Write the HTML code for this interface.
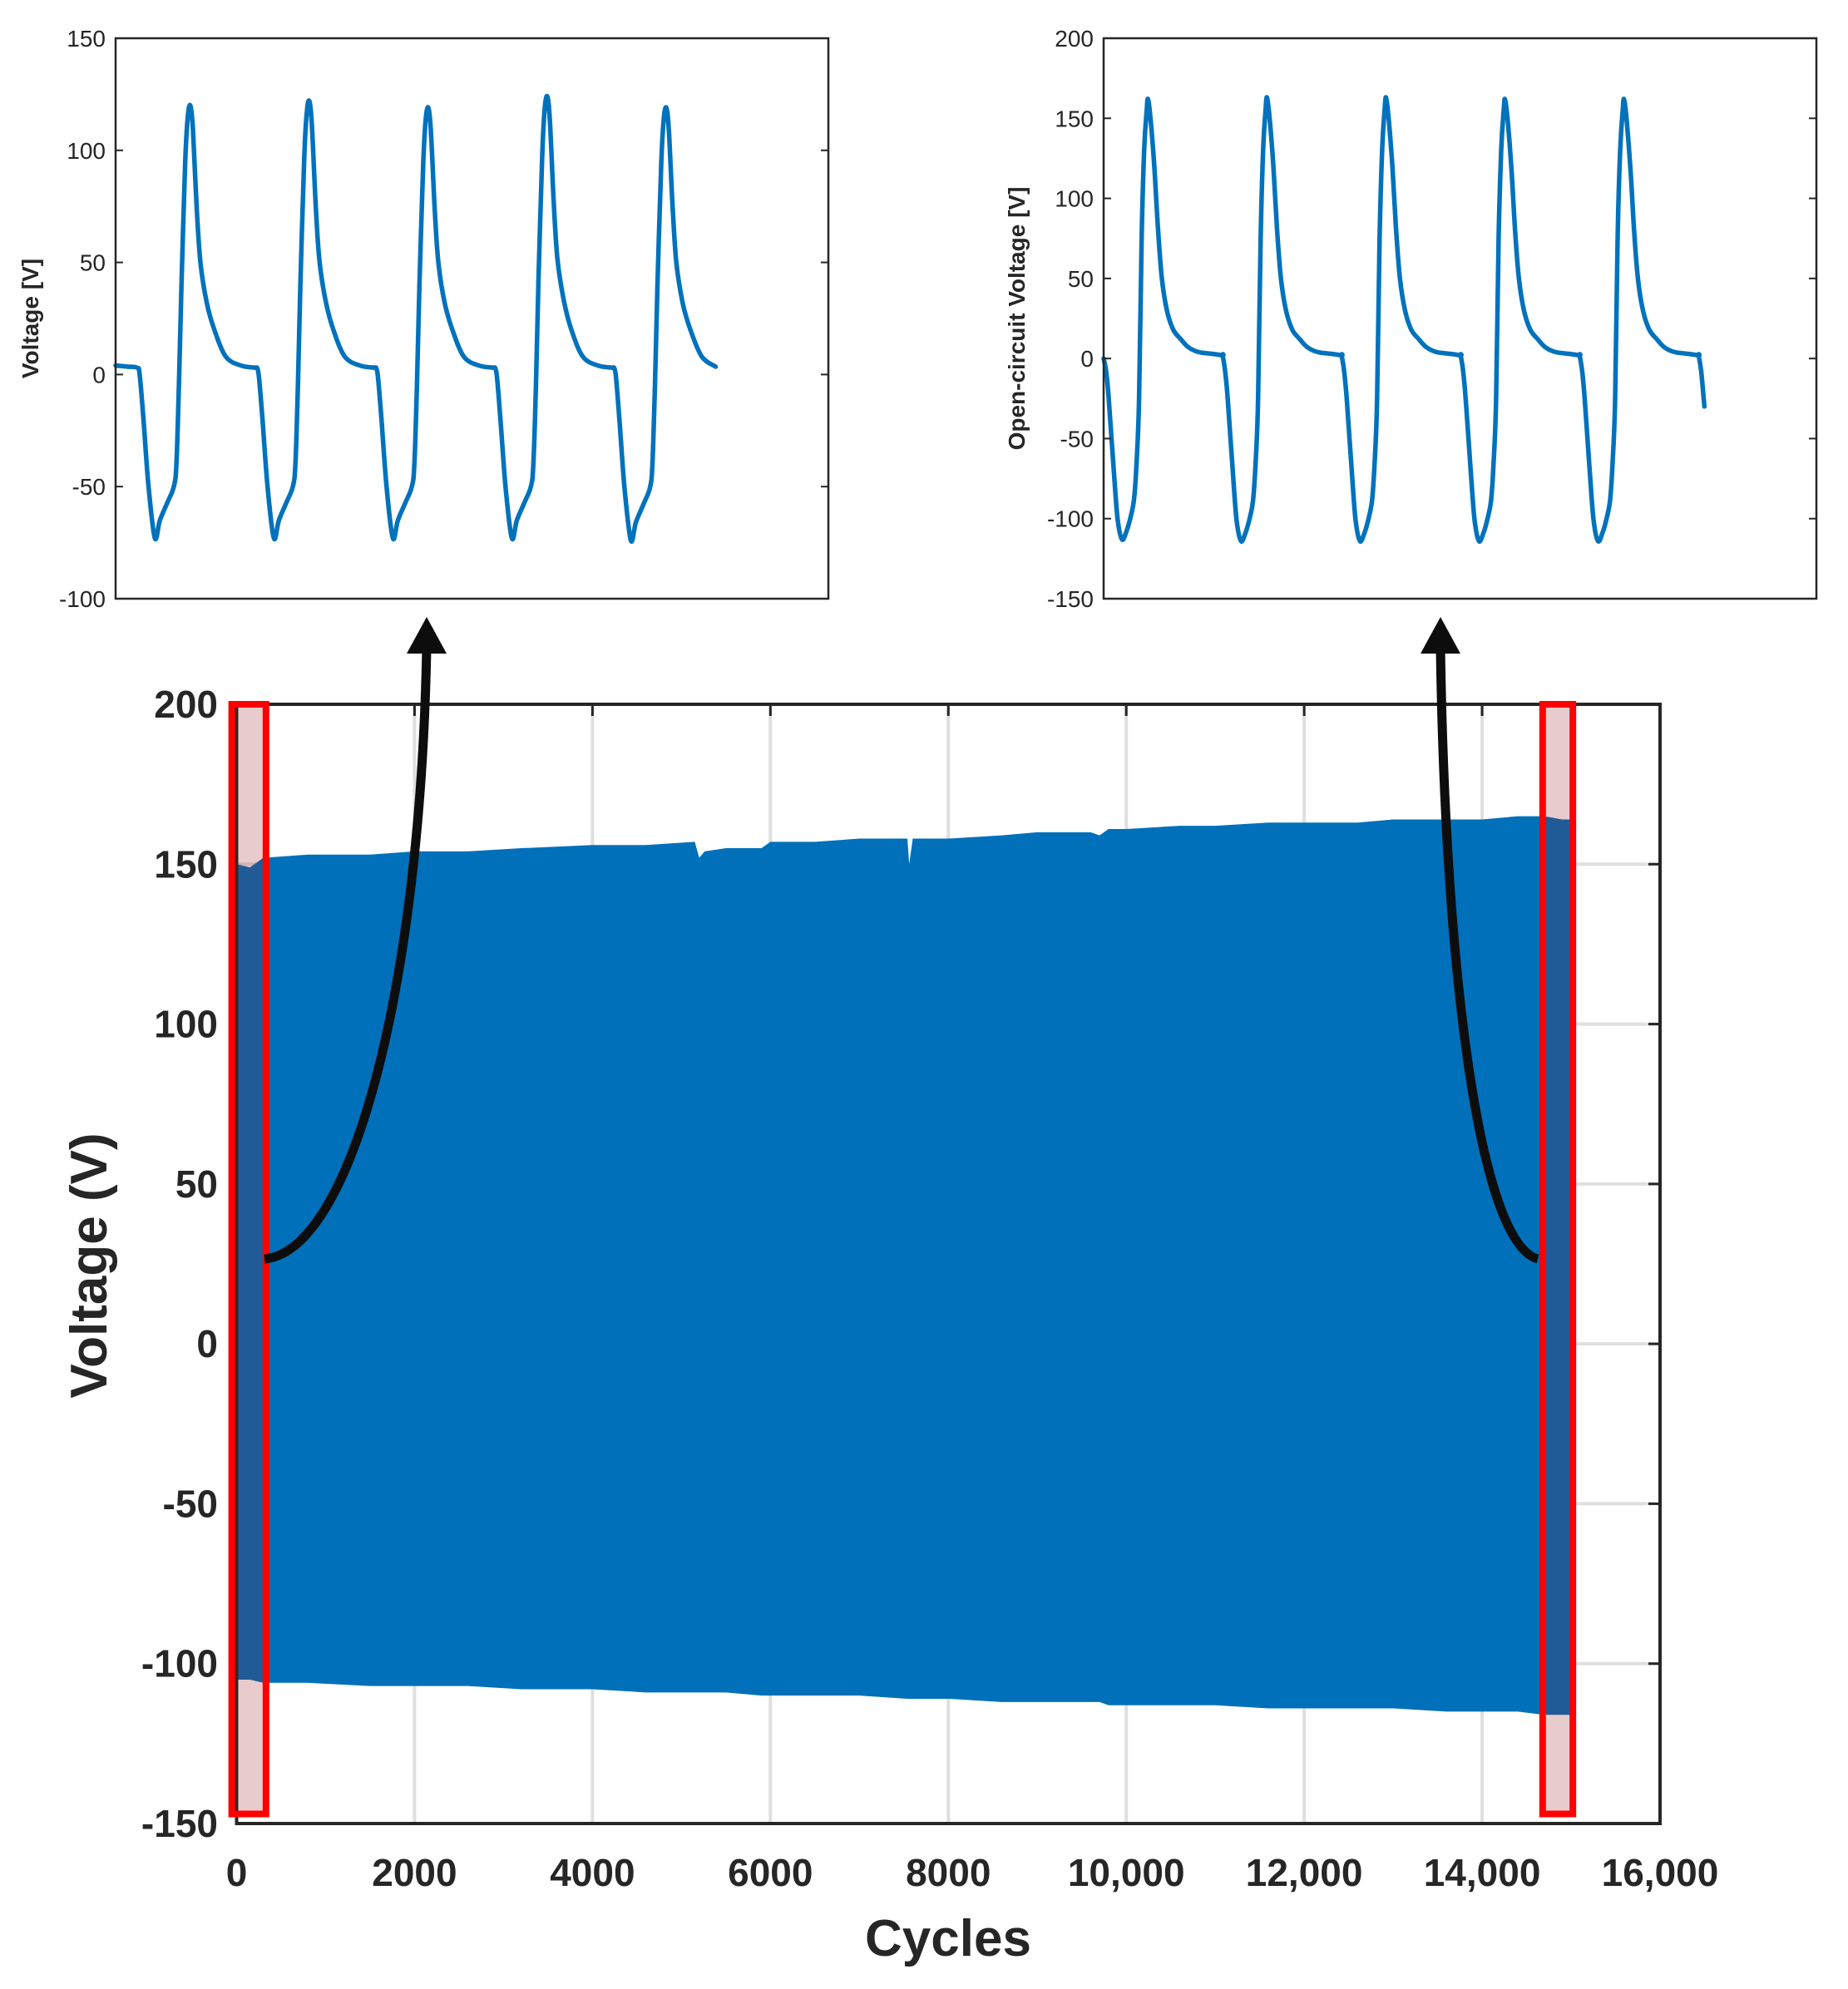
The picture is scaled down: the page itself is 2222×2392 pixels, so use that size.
<!DOCTYPE html>
<html><head><meta charset="utf-8">
<style>
html,body{margin:0;padding:0;background:#fff;}
svg{display:block;}
text{font-family:"Liberation Sans",Arial,sans-serif;fill:#262626;}
</style></head>
<body>
<svg id="fig" width="2222" height="2392" viewBox="0 0 2222 2392" xmlns="http://www.w3.org/2000/svg"></svg>
<script>
// ---------- Main chart data ----------
const mainXTicks = [0,2000,4000,6000,8000,10000,12000,14000,16000];
const mainXTickLabels = ["0","2000","4000","6000","8000","10,000","12,000","14,000","16,000"];
const mainYTicks = [-150,-100,-50,0,50,100,150,200];
const envCycles = [0,150,300,800,1500,2000,2600,3200,4000,4600,5150,5200,5260,5500,5900,6000,6500,7000,7540,7560,7600,8000,8600,9000,9600,9700,9800,10000,10600,11000,11600,12000,12600,13000,13600,14000,14400,14700,14900,15000];
const envUpper  = [150,149,152,153,153,154,154,155,156,156,157,152,154,155,155,157,157,158,158,150,158,158,159,160,160,159,161,161,162,162,163,163,163,164,164,164,165,165,164,164];
const envLower  = [-105,-105,-106,-106,-107,-107,-107,-108,-108,-109,-109,-109,-109,-109,-110,-110,-110,-110,-111,-111,-111,-111,-112,-112,-112,-112,-113,-113,-113,-113,-114,-114,-114,-114,-115,-115,-115,-116,-116,-116];
const zoomBoxes = [[-55,330],[14680,15020]];

// ---------- Inset data ----------
const in1YTicks = [-100,-50,0,50,100,150];
const in1Starts = [17,111,205,299,393];
const in1Peaks = [120,122,119,124,119];
const in1Troughs = [-73,-73,-73,-73,-74];
const in1ShapeT = [0,2,5,9,14,18,24,29,31,33,35,38,40,42,44,47,50,55,61,70,82,94];
const in1ShapeV = [3,0,-20,-50,-73,-65,-57,-50,-40,-5,40,95,115,120,110,75,50,32,20,8,4,3];
const in1End = 474;

const in2YTicks = [-150,-100,-50,0,50,100,150,200];
const in2Starts = [0,94,188,282,376,470];
const in2Peaks = [162,163,163,162,162,0];
const in2Troughs = [-113,-114,-114,-114,-114,-114];
const in2ShapeT = [0,2,4,8,11,14.5,18,21,24,26,28,30,32,34,35,37,40,43,46,50,55,61,67,75,85,94];
const in2ShapeV = [2,-8,-25,-70,-100,-113,-108,-100,-88,-65,-25,75,130,155,162,150,120,80,50,30,18,12,7,4,3,2];
const in2End = 474.5;

const NS="http://www.w3.org/2000/svg";
const svg=document.getElementById('fig');
function el(tag,attrs,parent){const e=document.createElementNS(NS,tag);for(const k in attrs)e.setAttribute(k,attrs[k]);(parent||svg).appendChild(e);return e;}

// ---------- Main chart ----------
const M={l:284.5,r:1996,t:847,b:2193,x0:0,x1:16000,y0:-150,y1:200};
const mx=v=>M.l+(v-M.x0)/(M.x1-M.x0)*(M.r-M.l);
const my=v=>M.b-(v-M.y0)/(M.y1-M.y0)*(M.b-M.t);
const gMain=el('g',{});


mainXTicks.forEach(t=>{if(t>0&&t<16000){const l=el('line',{x1:mx(t),x2:mx(t),y1:M.t,y2:M.b,stroke:'#dfdfdf','stroke-width':4},gMain);}});
mainYTicks.forEach(t=>{if(t>-150&&t<200){const l=el('line',{x1:M.l,x2:M.r,y1:my(t),y2:my(t),stroke:'#dfdfdf','stroke-width':4},gMain);}});
let d='M'+mx(envCycles[0])+','+my(envUpper[0]);
for(let i=1;i<envCycles.length;i++)d+=' L'+mx(envCycles[i])+','+my(envUpper[i]);
for(let i=envCycles.length-1;i>=0;i--)d+=' L'+mx(envCycles[i])+','+my(envLower[i]);
d+='Z';
const env=el('path',{d:d,fill:'#0070ba'},gMain);


mainYTicks.forEach(t=>{const tk=el('line',{x1:M.r-14,x2:M.r,y1:my(t),y2:my(t),stroke:'#262626','stroke-width':3},gMain);});
mainXTicks.forEach(t=>{const tk=el('line',{x1:mx(t),x2:mx(t),y1:M.t,y2:M.t+14,stroke:'#262626','stroke-width':3},gMain);});
const box=el('rect',{x:M.l,y:M.t,width:M.r-M.l,height:M.b-M.t,fill:'none',stroke:'#262626','stroke-width':4},gMain);


zoomBoxes.forEach(b=>{const r=el('rect',{x:mx(b[0]),y:my(200),width:mx(b[1])-mx(b[0]),height:my(-147)-my(200),fill:'rgba(148,18,23,0.216)',stroke:'#ff0000','stroke-width':8},gMain);});
mainYTicks.forEach(t=>{const tx=el('text',{x:262,y:my(t)+16,'text-anchor':'end','font-size':46,'font-weight':'bold'},gMain);tx.textContent=String(t);});
mainXTicks.forEach((t,i)=>{const tx=el('text',{x:mx(t),y:2268,'text-anchor':'middle','font-size':46,'font-weight':'bold'},gMain);tx.textContent=mainXTickLabels[i];});
const xt=el('text',{x:1140,y:2352,'text-anchor':'middle','font-size':62,'font-weight':'bold'},gMain);xt.textContent='Cycles';

const yt=el('text',{x:0,y:0,'text-anchor':'middle','font-size':62,'font-weight':'bold',transform:'translate(128,1522) rotate(-90)'},gMain);yt.textContent='Voltage (V)';


function arrow(p,tip,name){
  const a=el('path',{d:p,fill:'none',stroke:'#0d0d0d','stroke-width':11},gMain);
  
  const h=el('polygon',{points:(tip[0])+','+tip[1]+' '+(tip[0]-24)+','+(tip[1]+44)+' '+(tip[0]+24)+','+(tip[1]+44),fill:'#0d0d0d'},gMain);
  
}
arrow('M318,1514 C420,1505 505,1200 513,780',[513,742],'left-zoom-arrow');
arrow('M1849,1514 C1780,1495 1738,1180 1732,780',[1732,742],'right-zoom-arrow');

// ---------- Insets ----------
function inset(cfg){
  const g=el('g',{});
  
  
  const ix=t=>cfg.l+t/563*(cfg.r-cfg.l);
  const iy=v=>cfg.b-(v-cfg.y0)/(cfg.y1-cfg.y0)*(cfg.b-cfg.t);
  const pts=[];
  if(cfg.pre) cfg.pre.forEach(p=>pts.push(p));
  cfg.starts.forEach((s,c)=>{
    for(let k=0;k<cfg.shapeT.length;k++){
      const t=s+cfg.shapeT[k];
      if(t>cfg.end)break;
      let v=cfg.shapeV[k];
      v = v<0 ? v/cfg.refT*cfg.troughs[c] : (v>20 ? v/cfg.refP*cfg.peaks[c] : v);
      if(c===0&&k===0&&cfg.firstVal!==undefined)v=cfg.firstVal;
      pts.push([t,v]);
    }
  });
  if(cfg.tail) pts.push(cfg.tail);
  // smooth with Catmull-Rom
  let dd='M'+ix(pts[0][0]).toFixed(1)+','+iy(pts[0][1]).toFixed(1);
  for(let i=0;i<pts.length-1;i++){
    const p0=pts[Math.max(0,i-1)],p1=pts[i],p2=pts[i+1],p3=pts[Math.min(pts.length-1,i+2)];
    const P=q=>[ix(q[0]),iy(q[1])];
    const a=P(p0),b=P(p1),c2=P(p2),e=P(p3);
    const c1x=b[0]+(c2[0]-a[0])/6,c1y=b[1]+(c2[1]-a[1])/6;
    const c2x=c2[0]-(e[0]-b[0])/6,c2y=c2[1]-(e[1]-b[1])/6;
    dd+=' C'+c1x.toFixed(1)+','+c1y.toFixed(1)+' '+c2x.toFixed(1)+','+c2y.toFixed(1)+' '+c2[0].toFixed(1)+','+c2[1].toFixed(1);
  }
  const ln=el('path',{d:dd,fill:'none',stroke:'#0072bd','stroke-width':5.5,'stroke-linejoin':'round','stroke-linecap':'round'},g);
  
  cfg.ticks.forEach(t=>{
    const a=el('line',{x1:cfg.l,x2:cfg.l+9,y1:iy(t),y2:iy(t),stroke:'#262626','stroke-width':2},g);
    
    const b=el('line',{x1:cfg.r-9,x2:cfg.r,y1:iy(t),y2:iy(t),stroke:'#262626','stroke-width':2},g);
    
    const tx=el('text',{x:cfg.l-12,y:iy(t)+10,'text-anchor':'end','font-size':28},g);
    tx.textContent=String(t);
  });
  const bx=el('rect',{x:cfg.l,y:cfg.t,width:cfg.r-cfg.l,height:cfg.b-cfg.t,fill:'none',stroke:'#262626','stroke-width':2.5},g);
  
  const yl=el('text',{x:0,y:0,'text-anchor':'middle','font-size':28,'font-weight':'bold',transform:'translate('+cfg.labX+','+((cfg.t+cfg.b)/2)+') rotate(-90)'},g);
  yl.textContent=cfg.label;
}
inset({name:'inset-early-cycles',l:139,r:996,t:46,b:720,y0:-100,y1:150,ticks:in1YTicks,starts:in1Starts,peaks:in1Peaks,troughs:in1Troughs,shapeT:in1ShapeT,shapeV:in1ShapeV,refP:120,refT:-73,end:in1End,pre:[[0,4],[10,3.5]],tail:[in1End,3.5],label:'Voltage [V]',labX:46});
inset({name:'inset-late-cycles',l:1327,r:2184,t:46,b:720,y0:-150,y1:200,ticks:in2YTicks,starts:in2Starts,peaks:in2Peaks,troughs:in2Troughs,shapeT:in2ShapeT,shapeV:in2ShapeV,refP:162,refT:-113,end:in2End,firstVal:0,tail:[in2End,-30],label:'Open-circuit Voltage [V]',labX:1232});
</script>
</body></html>
